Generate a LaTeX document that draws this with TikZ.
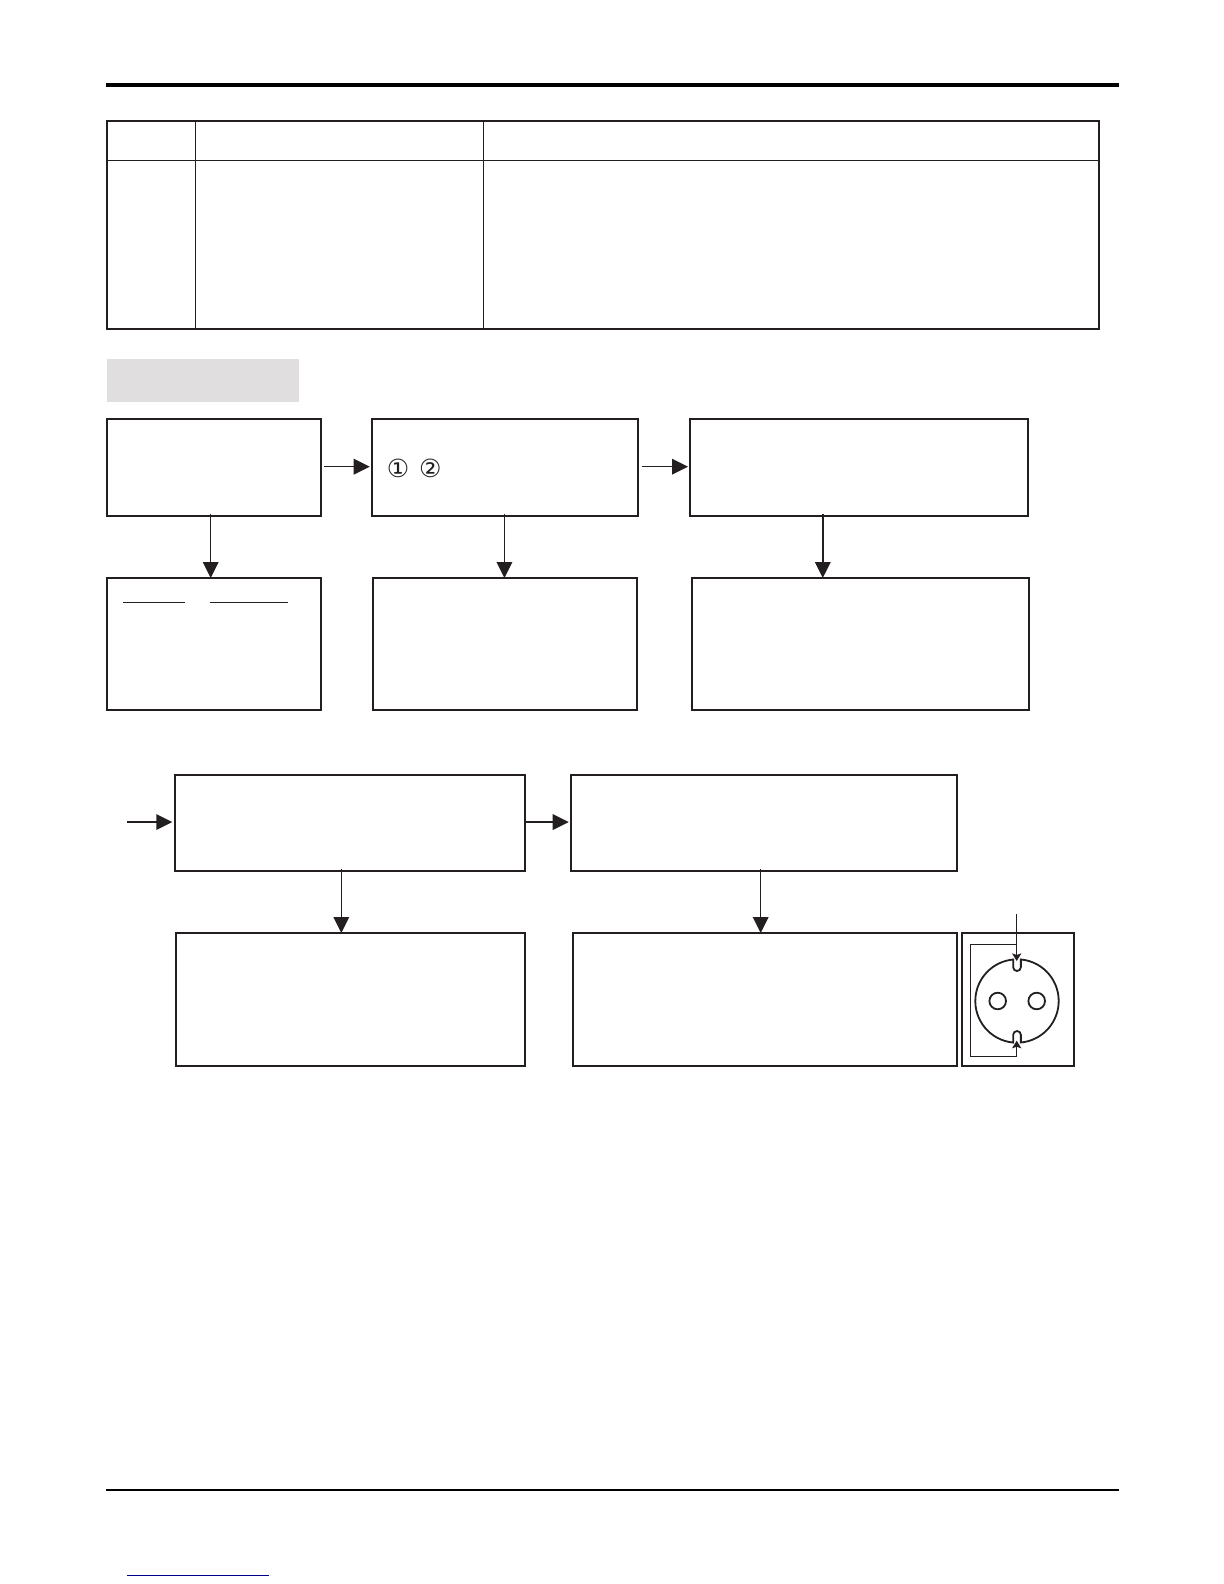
\documentclass[tikz,border=0pt]{standalone}
\usepackage{fontspec}
\newfontfamily\symfont{DejaVu Sans}
\usetikzlibrary{arrows.meta}
\definecolor{ink}{HTML}{231F20}
\definecolor{panel}{HTML}{E0DEDF}
\definecolor{linkblue}{HTML}{00008B}
\tikzset{
  boxnode/.style={draw=ink,line width=1pt,rectangle,inner sep=0pt,outer sep=0pt,anchor=north west},
  arr/.style={draw=ink,line width=.75pt,-{Triangle[length=8pt,width=7.8pt]}},
  thinarr/.style={draw=ink,line width=.5pt,-{Stealth[length=3.8pt,width=4.6pt,inset=.8pt]}},
  inner line/.style={draw=ink,line width=.7pt},
  holenode/.style={draw=ink,line width=.9pt,circle,inner sep=0pt,outer sep=0pt,minimum size=8.3pt},
  digit/.style={inner sep=0pt,text=ink,font=\symfont\fontsize{12.5}{14}\selectfont},
}
\newcommand{\flowbox}[5]{\node[boxnode,minimum width={(#4-#2)*0.5pt},minimum height={(#5-#3)*0.5pt}] (#1) at (#2,#3) {};}
\begin{document}
\begin{tikzpicture}[x=0.5pt,y=-0.5pt]
\useasboundingbox (0,0) rectangle (1224,1584);
\fill[white] (0,0) rectangle (1224,1584);
% rules
\fill[black] (106,83) rectangle (1119,87);
\fill[black] (106,1489) rectangle (1119,1491);
\draw[linkblue,line width=.5pt] (127,1575) -- (269,1575);
% table
\flowbox{tbl}{107}{121}{1098.7}{328.7}
\coordinate (colA) at (195.3,121);
\coordinate (colB) at (483.7,121);
\coordinate (rowA) at (107,160.3);
\draw[inner line] (colA |- tbl.north) -- (colA |- tbl.south);
\draw[inner line] (colB |- tbl.north) -- (colB |- tbl.south);
\draw[inner line] (rowA -| tbl.west) -- (rowA -| tbl.east);
% grey title panel
\fill[panel] (107,359) rectangle (299,402);
% first row
\flowbox{A}{107}{419}{321}{515.7}
\flowbox{B}{372}{419}{638.3}{515.7}
\flowbox{C}{690}{419}{1028.3}{515.7}
\flowbox{D}{107}{578}{321}{710}
\flowbox{E}{373}{578}{637.3}{710}
\flowbox{F}{692}{578}{1029}{710}
% second row
\flowbox{G}{175}{775}{525}{870.7}
\flowbox{H}{571}{775}{957.3}{870.7}
\flowbox{I}{176}{933}{525}{1065.7}
\flowbox{J}{573}{933}{957.3}{1065.7}
\flowbox{K}{962}{933}{1074.3}{1065.7}
% circled digits
\node[digit] (one) at (398,468.3) {①};
\node[digit] (two) at (430.3,468.3) {②};
% underlines
\draw[ink,line width=.5pt] (123,602) -- (185,602);
\draw[ink,line width=.5pt] (210,602) -- (287.7,602);
% connectors
\draw[arr] ([xshift=1.65pt,yshift=.33pt]A.east) -- ([xshift=-1.15pt,yshift=.33pt]B.west);
\draw[arr] ([xshift=1.85pt,yshift=.33pt]B.east) -- ([xshift=-1pt,yshift=.33pt]C.west);
\draw[arr] ([xshift=-1.65pt,yshift=.8pt]A.south) -- ([xshift=-1.65pt]D.north);
\draw[arr] ([xshift=-.35pt,yshift=.8pt]B.south) -- ([xshift=-.35pt]E.north);
\draw[arr] ([xshift=-18.2pt,yshift=.8pt]C.south) -- ([xshift=-18.875pt]F.north);
\coordinate (entry) at (127,822.05);
\draw[arr] (entry) -- ([xshift=-1.35pt,yshift=.4pt]G.west);
\draw[arr] ([xshift=-.5pt,yshift=.4pt]G.east) -- ([xshift=-1.15pt,yshift=.4pt]H.west);
\draw[arr] ([xshift=-4.35pt,yshift=.8pt]G.south) -- ([xshift=-4.6pt]I.north);
\draw[arr] ([xshift=-1.73pt,yshift=.8pt]H.south) -- ([xshift=-2.23pt]J.north);
% socket
\draw[ink,line width=.9pt] (1020.85,959.45)
  arc (-84.7:84.7:41.7) -- (1020.85,1034.85) arc (0:-180:3.85) -- (1013.15,1042.55)
  arc (95.3:264.7:41.7) -- (1013.15,967.15) arc (180:0:3.85) -- cycle;
\node[holenode] (holeL) at (997.7,1001) {};
\node[holenode] (holeR) at (1036.7,1001) {};
\coordinate (leadTop) at (1016.7,914);
\coordinate (tipTop) at (1016.7,961);
\coordinate (tipBottom) at (1016.7,1040.7);
\coordinate (corner) at (1016.7,944.3);
\draw[thinarr] (leadTop) -- (tipTop);
\draw[thinarr] (corner) -- (970.7,944.3) -- (970.7,1056) -- (1016.7,1056) -- (tipBottom);
\end{tikzpicture}
\end{document}
